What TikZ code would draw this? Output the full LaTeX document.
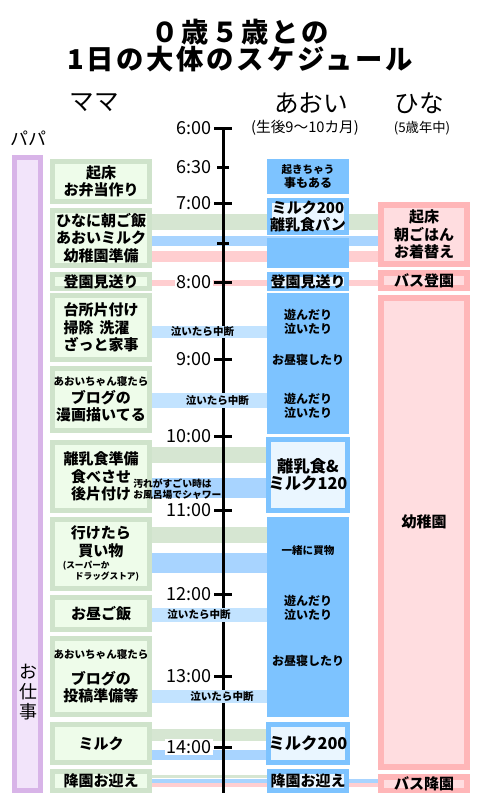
\documentclass[tikz,border=0pt]{standalone}
\usepackage{fontspec}
\setmainfont{Noto Sans CJK JP}
\usetikzlibrary{positioning, backgrounds}

\definecolor{mamaline}{RGB}{207,227,203}
\definecolor{mamafill}{RGB}{238,252,234}
\definecolor{greenband}{RGB}{214,230,210}
\definecolor{aoiblue}{RGB}{125,195,255}
\definecolor{aoiinner}{RGB}{234,246,255}
\definecolor{blueband}{RGB}{168,212,255}
\definecolor{cryblue}{RGB}{194,227,255}
\definecolor{hinaline}{RGB}{255,182,184}
\definecolor{hinafill}{RGB}{255,221,224}
\definecolor{pinkband}{RGB}{255,206,208}
\definecolor{papaline}{RGB}{216,180,232}
\definecolor{papafill}{RGB}{242,228,250}

\newcommand\jptitle{\fontsize{20.5pt}{20.25pt}\selectfont\bfseries\addfontfeature{LetterSpace=10}}
\newcommand\jphead{\fontsize{18.5pt}{20pt}\selectfont}
\newcommand\jpsub{\fontsize{10pt}{12pt}\selectfont}
\newcommand\jptime{\fontsize{13.5pt}{15pt}\selectfont}
\newcommand\jpbox{\fontsize{11.25pt}{13.2pt}\selectfont\bfseries}
\newcommand\jpbig{\fontsize{12.25pt}{12.75pt}\selectfont\bfseries}
\newcommand\jpmid{\fontsize{9pt}{10.5pt}\selectfont\bfseries}
\newcommand\jpsmall{\fontsize{7.9pt}{9pt}\selectfont\bfseries}
\newcommand\jptiny{\fontsize{6.5pt}{7.2pt}\selectfont\bfseries}

\tikzset{
    px/.style 2 args={minimum width=#1*0.75pt, minimum height=#2*0.75pt}, % sizes in pixels
    mama/.style={draw=mamaline, fill=mamafill, line width=3.75pt, inner sep=0pt, align=center, font=\jpbox},
    aoi/.style={fill=aoiblue, inner sep=0pt, align=center, font=\jpmid},
    aoibox/.style={draw=aoiblue, fill=aoiinner, line width=3.75pt, inner sep=0pt, align=center, font=\jpbox},
    hina/.style={draw=hinaline, fill=hinafill, line width=4.5pt, inner sep=0pt, align=center, font=\jpbox},
    papa/.style={draw=papaline, fill=papafill, line width=4.1pt, inner sep=0pt},
    gband/.style={draw=greenband, line width=#1*0.75pt},
    bband/.style={draw=blueband, line width=#1*0.75pt},
    pband/.style={draw=pinkband, line width=#1*0.75pt},
    cryband/.style={draw=cryblue, line width=#1*0.75pt},
    crytxt/.style={font=\jpsmall, inner sep=0pt},
    timelbl/.style={font=\jptime, fill=white, inner sep=1pt},
    major/.style={line width=2.25pt},
    minor/.style={line width=2.25pt},
    axisline/.style={line width=2.25pt}
}

\begin{document}
\begin{tikzpicture}[x=0.75pt, y=-0.75pt]

    \useasboundingbox (0,0) rectangle (480,793);

    % title and column heads
    \node[font=\jptitle, align=center] (ttl) at (240,46) {０歳５歳との\\1日の大体のスケジュール};
    \node[font=\jphead] (mama) at (94,103) {ママ};
    \node[font=\jphead] (aoi) at (311,103) {あおい};
    \node[font=\jphead] (hina) at (419,103) {ひな};
    \node[font=\fontsize{11pt}{12pt}\selectfont] (aoiage) at (305,128) {(生後9〜10カ月)};
    \node[font=\jpsub] (hinaage) at (422,128) {(5歳年中)};
    \node[font=\jptime] (papalbl) at (29,138) {パパ};

    % papa
    \node[papa, px={25.5}{632.5}] (papa) at (27.5,474) {};
    \node[font=\jptime, align=center, inner sep=0pt] (work) at (28,692) {\fontsize{13.5pt}{18pt}\selectfont お\\仕\\事};

    % mama
    \node[mama, px={97}{40}] (m1) at (101,181.5) {起床\\お弁当作り};
    \node[mama, px={97}{55}] (m2) at (101,238) {ひなに朝ご飯\\あおいミルク\\幼稚園準備};
    \node[mama, px={97}{12}] (m3) at (101,281.5) {登園見送り};
    \node[mama, px={97}{64}, align=left] (m4) at (101,327.5) {台所片付け\\掃除\hspace{0.4em}洗濯\\ざっと家事};
    \node[mama, px={97}{62}] (m5) at (101,399.5) {{\jpsmall あおいちゃん寝たら}\\ブログの\\漫画描いてる};
    \node[mama, px={97}{68}] (m6) at (101,476.5) {離乳食準備\\食べさせ\\後片付け};
    \node[mama, px={97}{69}] (m7) at (101,554) {行けたら\\買い物\\{\jptiny\begin{tabular}{@{}l@{}}(スーパーか\\\hspace{1.4em}ドラッグストア)\end{tabular}}};
    \node[mama, px={97}{32}] (m8) at (101,613.5) {お昼ご飯};
    \node[mama, px={97}{76}] (m9) at (101,676.5) {{\jpsmall あおいちゃん寝たら}\\[6pt]ブログの\\投稿準備等};
    \node[mama, px={97}{38}] (m10) at (101,743.5) {ミルク};
    \node[mama, px={97}{19}] (m11) at (101,781) {降園お迎え};

    % aoi
    \node[aoi, px={82}{35}] (a1) at (308,176.5) {\jpsmall 起きちゃう\\事もある};
    \node[aoibox, px={77}{32}] (a2) at (308,216.5) {ミルク200\\離乳食パン};
    \node[aoi, px={82}{30}] (a3) at (308,253) {};
    \node[aoibox, px={77}{12}] (a4) at (308,281.5) {登園見送り};
    \node[aoi, px={82}{141}] (a5) at (308,363.5) {遊んだり\\泣いたり\\[12.75pt]お昼寝したり\\[18.75pt]遊んだり\\泣いたり};
    \node[aoibox, px={77}{71}, font=\jpbig] (a6) at (308,475) {離乳食\&\\ミルク120};
    \node[aoi, px={82}{200}] (a7) at (308,617) {};
    \node[font=\jpmid, align=center, inner sep=0pt] (a7t) at (308,606) {{\jpsmall 一緒に買物}\\[27.75pt]遊んだり\\泣いたり\\[24pt]お昼寝したり};
    \node[aoibox, px={77}{38}, font=\jpbig] (a8) at (308,743.5) {ミルク200};
    \node[aoibox, px={77}{19}] (a9) at (308,781) {降園お迎え};

    % hina
    \node[hina, px={86}{59}] (h1) at (424,234.5) {起床\\朝ごはん\\お着替え};
    \node[hina, px={86}{11}] (h2) at (424,280.5) {バス登園};
    \node[hina, px={86}{469}] (h3) at (424,532.5) {};
    \node[font=\jpbox] (h3t) at (424,522) {幼稚園};
    \node[hina, px={86}{12}] (h4) at (424,784) {バス降園};

    % bands between the columns
    \begin{scope}[on background layer]
        \draw[gband=16] (m2.east |- 0,222) -- (h1.west |- 0,222);
        \draw[bband=10] (m2.east |- 0,241) -- (h1.west |- 0,241);
        \draw[pband=11] (m2.east |- 0,256.5) -- (h1.west |- 0,256.5);
        \draw[pband=6] (m3.east |- 0,283) -- (h2.west |- 0,283);
        \draw[gband=16] (m6.east |- 0,455) -- (a6.west |- 0,455);
        \draw[bband=20] (m6.east |- 0,488) -- (a6.west |- 0,488);
        \draw[gband=16] (m7.east |- 0,535) -- (a7.west |- 0,535);
        \draw[bband=20] (m7.east |- 0,563) -- (a7.west |- 0,563);
        \draw[gband=12] (m10.east |- 0,735) -- (a8.west |- 0,735);
        \draw[bband=10] (m10.east |- 0,755) -- (a8.west |- 0,755);
        \draw[gband=3.5] (m11.east |- 0,776.5) -- (a9.west |- 0,776.5);
        \draw[bband=4] (m11.east |- 0,781) -- (h4.west |- 0,781);
        \draw[pband=4] (m11.east |- 0,785) -- (h4.west |- 0,785);
    \end{scope}

    % time axis
    \coordinate (t600) at (223,128);
    \coordinate (t630) at (223,167);
    \coordinate (t700) at (223,203);
    \coordinate (t730) at (223,243);
    \coordinate (t800) at (223,282);
    \coordinate (t900) at (223,359);
    \coordinate (t1000) at (223,436);
    \coordinate (t1100) at (223,510);
    \coordinate (t1200) at (223,594);
    \coordinate (t1300) at (223,676);
    \coordinate (t1400) at (223,747);
    \coordinate (tend) at (223,793);

    \draw[axisline] (t600) -- (tend);
    \draw[major] (t600) +(-9,0) -- +(9,0);
    \draw[minor] (t630) +(-6,0) -- +(6,0);
    \draw[major] (t700) +(-9,0) -- +(9,0);
    \draw[minor] (t730) +(-6,0) -- +(6,0);
    \draw[major] (t800) +(-9,0) -- +(9,0);
    \draw[major] (t900) +(-9,0) -- +(9,0);
    \draw[major] (t1000) +(-9,0) -- +(9,0);
    \draw[major] (t1100) +(-9,0) -- +(9,0);
    \draw[major] (t1200) +(-9,0) -- +(9,0);
    \draw[major] (t1300) +(-9,0) -- +(9,0);
    \draw[major] (t1400) +(-9,0) -- +(9,0);

    \node[timelbl, left=7.5pt of t600] (l600) {6:00};
    \node[timelbl, left=7.5pt of t630] (l630) {6:30};
    \node[timelbl, left=7.5pt of t700] (l700) {7:00};
    \node[timelbl, left=7.5pt of t800] (l800) {8:00};
    \node[timelbl, left=7.5pt of t900] (l900) {9:00};
    \node[timelbl, left=7.5pt of t1000] (l1000) {10:00};
    \node[timelbl, left=7.5pt of t1100] (l1100) {11:00};
    \node[timelbl, left=7.5pt of t1200] (l1200) {12:00};
    \node[timelbl, left=7.5pt of t1300] (l1300) {13:00};
    \node[timelbl, left=7.5pt of t1400] (l1400) {14:00};

    % stop when crying
    \draw[cryband=12] (m4.east |- 0,332) -- node[crytxt, pos=.44] (cry1) {泣いたら中断} (a5.west |- 0,332);
    \draw[cryband=15] (m5.east |- 0,400.5) -- node[crytxt, pos=.57] (cry2) {泣いたら中断} (a5.west |- 0,400.5);
    \draw[cryband=14] (m8.east |- 0,615) -- node[crytxt, pos=.41] (cry3) {泣いたら中断} (a7.west |- 0,615);
    \draw[cryband=13] (m9.east |- 0,696.5) -- node[crytxt, pos=.61] (cry4) {泣いたら中断} (a7.west |- 0,696.5);
    \node[font=\fontsize{7.35pt}{8.6pt}\selectfont\bfseries, align=left, anchor=west, inner sep=0pt] (dirty) at (133,489) {汚れがすごい時は\\お風呂場でシャワー};

\end{tikzpicture}
\end{document}
